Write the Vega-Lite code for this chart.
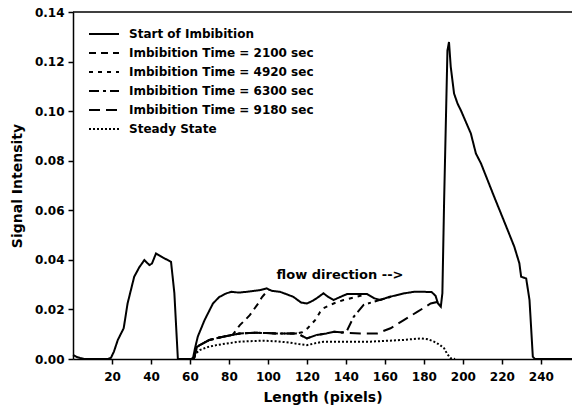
{
  "$schema": "https://vega.github.io/schema/vega-lite/v6.json",
  "width": 499,
  "height": 347,
  "autosize": "none",
  "padding": {"left": 73, "top": 12, "right": 0, "bottom": 55},
  "background": "white",
  "config": {
    "view": {"stroke": null},
    "font": "DejaVu Sans",
    "axis": {
      "grid": false,
      "domainColor": "black",
      "domainWidth": 1.5,
      "tickColor": "black",
      "tickWidth": 1.5,
      "tickSize": 5,
      "labelFont": "DejaVu Sans",
      "labelFontWeight": "bold",
      "labelFontSize": 12,
      "labelColor": "black",
      "titleFont": "DejaVu Sans",
      "titleFontWeight": "bold",
      "titleFontSize": 14,
      "titleColor": "black"
    },
    "legend": {
      "orient": "none",
      "legendX": 20,
      "legendY": 11,
      "title": null,
      "symbolType": "M-1.5,0L1.5,0",
      "symbolSize": 400,
      "symbolStrokeWidth": 2,
      "symbolStrokeColor": "black",
      "symbolFillColor": "transparent",
      "labelFont": "DejaVu Sans",
      "labelFontWeight": "bold",
      "labelFontSize": 12,
      "labelColor": "black",
      "labelOffset": 14,
      "labelLimit": 400,
      "rowPadding": 2
    }
  },
  "layer": [
    {
      "data": {
        "values": [
          {"series": "Start of Imbibition", "x": 0, "y": 0.0016},
          {"series": "Start of Imbibition", "x": 2, "y": 0.0008},
          {"series": "Start of Imbibition", "x": 4, "y": 0.0003},
          {"series": "Start of Imbibition", "x": 6, "y": 0},
          {"series": "Start of Imbibition", "x": 18, "y": 0},
          {"series": "Start of Imbibition", "x": 19.5, "y": 0.0005},
          {"series": "Start of Imbibition", "x": 21, "y": 0.003},
          {"series": "Start of Imbibition", "x": 23, "y": 0.0077},
          {"series": "Start of Imbibition", "x": 26, "y": 0.0124},
          {"series": "Start of Imbibition", "x": 28, "y": 0.0224},
          {"series": "Start of Imbibition", "x": 31.4, "y": 0.0332},
          {"series": "Start of Imbibition", "x": 34, "y": 0.037},
          {"series": "Start of Imbibition", "x": 36.6, "y": 0.0399},
          {"series": "Start of Imbibition", "x": 39.2, "y": 0.0379},
          {"series": "Start of Imbibition", "x": 40.5, "y": 0.0385},
          {"series": "Start of Imbibition", "x": 42.6, "y": 0.0426},
          {"series": "Start of Imbibition", "x": 46, "y": 0.041},
          {"series": "Start of Imbibition", "x": 50.3, "y": 0.0392},
          {"series": "Start of Imbibition", "x": 52, "y": 0.0266},
          {"series": "Start of Imbibition", "x": 53.8, "y": 0},
          {"series": "Start of Imbibition", "x": 61.5, "y": 0},
          {"series": "Start of Imbibition", "x": 62.5, "y": 0.004},
          {"series": "Start of Imbibition", "x": 64, "y": 0.009},
          {"series": "Start of Imbibition", "x": 67.5, "y": 0.0157},
          {"series": "Start of Imbibition", "x": 71.8, "y": 0.0224},
          {"series": "Start of Imbibition", "x": 75, "y": 0.025},
          {"series": "Start of Imbibition", "x": 78.7, "y": 0.0265},
          {"series": "Start of Imbibition", "x": 81.3, "y": 0.0271},
          {"series": "Start of Imbibition", "x": 85, "y": 0.0268},
          {"series": "Start of Imbibition", "x": 89, "y": 0.0271},
          {"series": "Start of Imbibition", "x": 93, "y": 0.0275},
          {"series": "Start of Imbibition", "x": 96, "y": 0.0278},
          {"series": "Start of Imbibition", "x": 99.3, "y": 0.0285},
          {"series": "Start of Imbibition", "x": 102, "y": 0.0275},
          {"series": "Start of Imbibition", "x": 106.2, "y": 0.0271},
          {"series": "Start of Imbibition", "x": 110, "y": 0.026},
          {"series": "Start of Imbibition", "x": 113, "y": 0.0251},
          {"series": "Start of Imbibition", "x": 117, "y": 0.0228},
          {"series": "Start of Imbibition", "x": 120, "y": 0.0224},
          {"series": "Start of Imbibition", "x": 123, "y": 0.0235},
          {"series": "Start of Imbibition", "x": 125, "y": 0.0245},
          {"series": "Start of Imbibition", "x": 128.5, "y": 0.0265},
          {"series": "Start of Imbibition", "x": 131, "y": 0.025},
          {"series": "Start of Imbibition", "x": 133.7, "y": 0.0238},
          {"series": "Start of Imbibition", "x": 137, "y": 0.025},
          {"series": "Start of Imbibition", "x": 140.6, "y": 0.0262},
          {"series": "Start of Imbibition", "x": 145, "y": 0.0262},
          {"series": "Start of Imbibition", "x": 150.9, "y": 0.0262},
          {"series": "Start of Imbibition", "x": 154.5, "y": 0.0245},
          {"series": "Start of Imbibition", "x": 157.7, "y": 0.0238},
          {"series": "Start of Imbibition", "x": 162, "y": 0.025},
          {"series": "Start of Imbibition", "x": 166.3, "y": 0.0258},
          {"series": "Start of Imbibition", "x": 170, "y": 0.0265},
          {"series": "Start of Imbibition", "x": 174.9, "y": 0.0271},
          {"series": "Start of Imbibition", "x": 180, "y": 0.0271},
          {"series": "Start of Imbibition", "x": 184, "y": 0.027},
          {"series": "Start of Imbibition", "x": 186, "y": 0.0255},
          {"series": "Start of Imbibition", "x": 187.2, "y": 0.0225},
          {"series": "Start of Imbibition", "x": 188.7, "y": 0.0211},
          {"series": "Start of Imbibition", "x": 189.5, "y": 0.0265},
          {"series": "Start of Imbibition", "x": 190.4, "y": 0.064},
          {"series": "Start of Imbibition", "x": 192.1, "y": 0.1245},
          {"series": "Start of Imbibition", "x": 192.9, "y": 0.1279},
          {"series": "Start of Imbibition", "x": 193.8, "y": 0.1178},
          {"series": "Start of Imbibition", "x": 195.5, "y": 0.1071},
          {"series": "Start of Imbibition", "x": 197.3, "y": 0.103},
          {"series": "Start of Imbibition", "x": 199, "y": 0.1003},
          {"series": "Start of Imbibition", "x": 204.1, "y": 0.091},
          {"series": "Start of Imbibition", "x": 206.7, "y": 0.0829},
          {"series": "Start of Imbibition", "x": 209.3, "y": 0.0789},
          {"series": "Start of Imbibition", "x": 216.1, "y": 0.0654},
          {"series": "Start of Imbibition", "x": 223, "y": 0.052},
          {"series": "Start of Imbibition", "x": 226.4, "y": 0.0453},
          {"series": "Start of Imbibition", "x": 229, "y": 0.0386},
          {"series": "Start of Imbibition", "x": 229.9, "y": 0.0332},
          {"series": "Start of Imbibition", "x": 232.5, "y": 0.0325},
          {"series": "Start of Imbibition", "x": 234.2, "y": 0.0238},
          {"series": "Start of Imbibition", "x": 235.9, "y": 0.0009},
          {"series": "Start of Imbibition", "x": 237, "y": 0},
          {"series": "Start of Imbibition", "x": 256, "y": 0},

          {"series": "Imbibition Time = 2100 sec", "x": 62, "y": 0},
          {"series": "Imbibition Time = 2100 sec", "x": 63.5, "y": 0.0048},
          {"series": "Imbibition Time = 2100 sec", "x": 65, "y": 0.0056},
          {"series": "Imbibition Time = 2100 sec", "x": 70, "y": 0.0077},
          {"series": "Imbibition Time = 2100 sec", "x": 77, "y": 0.009},
          {"series": "Imbibition Time = 2100 sec", "x": 82, "y": 0.0098},
          {"series": "Imbibition Time = 2100 sec", "x": 85.6, "y": 0.0137},
          {"series": "Imbibition Time = 2100 sec", "x": 88, "y": 0.0155},
          {"series": "Imbibition Time = 2100 sec", "x": 90.7, "y": 0.0177},
          {"series": "Imbibition Time = 2100 sec", "x": 95, "y": 0.0224},
          {"series": "Imbibition Time = 2100 sec", "x": 97, "y": 0.025},
          {"series": "Imbibition Time = 2100 sec", "x": 99.3, "y": 0.0271},
          {"series": "Imbibition Time = 2100 sec", "x": 100.5, "y": 0.028},

          {"series": "Imbibition Time = 4920 sec", "x": 62, "y": 0},
          {"series": "Imbibition Time = 4920 sec", "x": 63.5, "y": 0.0048},
          {"series": "Imbibition Time = 4920 sec", "x": 65, "y": 0.0056},
          {"series": "Imbibition Time = 4920 sec", "x": 70, "y": 0.0077},
          {"series": "Imbibition Time = 4920 sec", "x": 77, "y": 0.009},
          {"series": "Imbibition Time = 4920 sec", "x": 85.6, "y": 0.0103},
          {"series": "Imbibition Time = 4920 sec", "x": 94, "y": 0.0106},
          {"series": "Imbibition Time = 4920 sec", "x": 104.5, "y": 0.0103},
          {"series": "Imbibition Time = 4920 sec", "x": 114.8, "y": 0.0103},
          {"series": "Imbibition Time = 4920 sec", "x": 117.5, "y": 0.0108},
          {"series": "Imbibition Time = 4920 sec", "x": 120.5, "y": 0.0125},
          {"series": "Imbibition Time = 4920 sec", "x": 124.2, "y": 0.0157},
          {"series": "Imbibition Time = 4920 sec", "x": 126.8, "y": 0.019},
          {"series": "Imbibition Time = 4920 sec", "x": 128.5, "y": 0.0205},
          {"series": "Imbibition Time = 4920 sec", "x": 133.7, "y": 0.0224},
          {"series": "Imbibition Time = 4920 sec", "x": 138.8, "y": 0.0238},
          {"series": "Imbibition Time = 4920 sec", "x": 144, "y": 0.0248},
          {"series": "Imbibition Time = 4920 sec", "x": 150, "y": 0.026},

          {"series": "Imbibition Time = 6300 sec", "x": 62, "y": 0},
          {"series": "Imbibition Time = 6300 sec", "x": 63.5, "y": 0.0048},
          {"series": "Imbibition Time = 6300 sec", "x": 65, "y": 0.0056},
          {"series": "Imbibition Time = 6300 sec", "x": 70, "y": 0.0077},
          {"series": "Imbibition Time = 6300 sec", "x": 77, "y": 0.009},
          {"series": "Imbibition Time = 6300 sec", "x": 85.6, "y": 0.0103},
          {"series": "Imbibition Time = 6300 sec", "x": 94, "y": 0.0106},
          {"series": "Imbibition Time = 6300 sec", "x": 104.5, "y": 0.0103},
          {"series": "Imbibition Time = 6300 sec", "x": 114.8, "y": 0.0103},
          {"series": "Imbibition Time = 6300 sec", "x": 117, "y": 0.0095},
          {"series": "Imbibition Time = 6300 sec", "x": 120, "y": 0.0083},
          {"series": "Imbibition Time = 6300 sec", "x": 125, "y": 0.0097},
          {"series": "Imbibition Time = 6300 sec", "x": 130, "y": 0.0103},
          {"series": "Imbibition Time = 6300 sec", "x": 134, "y": 0.011},
          {"series": "Imbibition Time = 6300 sec", "x": 138, "y": 0.0106},
          {"series": "Imbibition Time = 6300 sec", "x": 140.6, "y": 0.0115},
          {"series": "Imbibition Time = 6300 sec", "x": 144, "y": 0.017},
          {"series": "Imbibition Time = 6300 sec", "x": 149.1, "y": 0.0218},
          {"series": "Imbibition Time = 6300 sec", "x": 154.3, "y": 0.0231},
          {"series": "Imbibition Time = 6300 sec", "x": 158, "y": 0.024},
          {"series": "Imbibition Time = 6300 sec", "x": 161.2, "y": 0.0245},
          {"series": "Imbibition Time = 6300 sec", "x": 164, "y": 0.0255},

          {"series": "Imbibition Time = 9180 sec", "x": 62, "y": 0},
          {"series": "Imbibition Time = 9180 sec", "x": 63.5, "y": 0.0048},
          {"series": "Imbibition Time = 9180 sec", "x": 65, "y": 0.0056},
          {"series": "Imbibition Time = 9180 sec", "x": 70, "y": 0.0077},
          {"series": "Imbibition Time = 9180 sec", "x": 77, "y": 0.009},
          {"series": "Imbibition Time = 9180 sec", "x": 85.6, "y": 0.0103},
          {"series": "Imbibition Time = 9180 sec", "x": 94, "y": 0.0106},
          {"series": "Imbibition Time = 9180 sec", "x": 104.5, "y": 0.0103},
          {"series": "Imbibition Time = 9180 sec", "x": 114.8, "y": 0.0103},
          {"series": "Imbibition Time = 9180 sec", "x": 117, "y": 0.0095},
          {"series": "Imbibition Time = 9180 sec", "x": 120, "y": 0.0083},
          {"series": "Imbibition Time = 9180 sec", "x": 125, "y": 0.0097},
          {"series": "Imbibition Time = 9180 sec", "x": 130, "y": 0.0103},
          {"series": "Imbibition Time = 9180 sec", "x": 134, "y": 0.011},
          {"series": "Imbibition Time = 9180 sec", "x": 140.6, "y": 0.0106},
          {"series": "Imbibition Time = 9180 sec", "x": 147.5, "y": 0.0103},
          {"series": "Imbibition Time = 9180 sec", "x": 156, "y": 0.0103},
          {"series": "Imbibition Time = 9180 sec", "x": 162.9, "y": 0.0124},
          {"series": "Imbibition Time = 9180 sec", "x": 169.7, "y": 0.0157},
          {"series": "Imbibition Time = 9180 sec", "x": 176.6, "y": 0.019},
          {"series": "Imbibition Time = 9180 sec", "x": 183.5, "y": 0.0224},
          {"series": "Imbibition Time = 9180 sec", "x": 186.9, "y": 0.023},
          {"series": "Imbibition Time = 9180 sec", "x": 188.2, "y": 0.0215},

          {"series": "Steady State", "x": 61, "y": 0},
          {"series": "Steady State", "x": 62.5, "y": 0.002},
          {"series": "Steady State", "x": 65, "y": 0.0036},
          {"series": "Steady State", "x": 69, "y": 0.0048},
          {"series": "Steady State", "x": 73.5, "y": 0.0056},
          {"series": "Steady State", "x": 80, "y": 0.0064},
          {"series": "Steady State", "x": 85.6, "y": 0.007},
          {"series": "Steady State", "x": 97.6, "y": 0.0074},
          {"series": "Steady State", "x": 105, "y": 0.0071},
          {"series": "Steady State", "x": 111.3, "y": 0.0066},
          {"series": "Steady State", "x": 116, "y": 0.006},
          {"series": "Steady State", "x": 120, "y": 0.0056},
          {"series": "Steady State", "x": 124, "y": 0.0063},
          {"series": "Steady State", "x": 128.5, "y": 0.007},
          {"series": "Steady State", "x": 135.4, "y": 0.007},
          {"series": "Steady State", "x": 152.6, "y": 0.007},
          {"series": "Steady State", "x": 160, "y": 0.0073},
          {"series": "Steady State", "x": 169.7, "y": 0.0077},
          {"series": "Steady State", "x": 178.3, "y": 0.0083},
          {"series": "Steady State", "x": 182, "y": 0.008},
          {"series": "Steady State", "x": 185.2, "y": 0.007},
          {"series": "Steady State", "x": 188, "y": 0.0058},
          {"series": "Steady State", "x": 190.4, "y": 0.0043},
          {"series": "Steady State", "x": 192, "y": 0.002},
          {"series": "Steady State", "x": 193.8, "y": 0.0003},
          {"series": "Steady State", "x": 196, "y": 0}
        ]
      },
      "mark": {"type": "line", "color": "black", "strokeWidth": 2},
      "encoding": {
        "x": {
          "field": "x",
          "type": "quantitative",
          "title": "Length (pixels)",
          "scale": {"domain": [0, 256], "nice": false, "zero": false},
          "axis": {"values": [20, 40, 60, 80, 100, 120, 140, 160, 180, 200, 220, 240], "labelPadding": 7, "titlePadding": 8}
        },
        "y": {
          "field": "y",
          "type": "quantitative",
          "title": "Signal Intensity",
          "scale": {"domain": [0, 0.14], "nice": false},
          "axis": {"values": [0, 0.02, 0.04, 0.06, 0.08, 0.1, 0.12, 0.14], "format": ".2f", "labelPadding": 4, "titlePadding": 10}
        },
        "strokeDash": {
          "field": "series",
          "type": "nominal",
          "scale": {
            "domain": ["Start of Imbibition", "Imbibition Time = 2100 sec", "Imbibition Time = 4920 sec", "Imbibition Time = 6300 sec", "Imbibition Time = 9180 sec", "Steady State"],
            "range": [[1, 0], [7, 5], [4, 5], [10, 4, 3, 4], [11, 6], [2, 2]]
          }
        }
      }
    },
    {
      "data": {"values": [{}]},
      "mark": {"type": "rule", "color": "black", "strokeWidth": 1.5},
      "encoding": {"y": {"datum": 0.14}}
    },
    {
      "data": {"values": [{}]},
      "mark": {"type": "text", "font": "DejaVu Sans", "fontSize": 13, "fontWeight": "bold", "color": "black"},
      "encoding": {
        "x": {"datum": 137},
        "y": {"datum": 0.0339},
        "text": {"value": "flow direction -->"}
      }
    }
  ]
}
